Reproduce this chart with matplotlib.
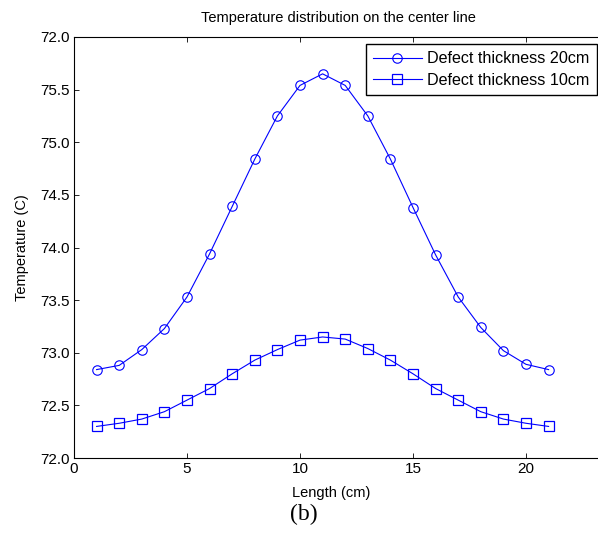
import matplotlib
matplotlib.use("Agg")
import matplotlib.pyplot as plt

plt.rcParams['font.family'] = ['Liberation Sans', 'DejaVu Sans']

length_cm = list(range(1, 22))
temp_20cm = [72.84, 72.88, 73.03, 73.23, 73.53, 73.94, 74.39, 74.84, 75.25, 75.54, 75.65,
             75.54, 75.25, 74.84, 74.38, 73.93, 73.53, 73.24, 73.02, 72.89, 72.84]
temp_10cm = [72.30, 72.33, 72.37, 72.44, 72.55, 72.66, 72.80, 72.93, 73.03, 73.12, 73.15,
             73.13, 73.04, 72.93, 72.80, 72.66, 72.55, 72.44, 72.37, 72.33, 72.30]
series_labels = ['Defect thickness 20cm', 'Defect thickness 10cm']
xticks = [0, 5, 10, 15, 20]
yticks = [72.0, 72.5, 73.0, 73.5, 74.0, 74.5, 75.0, 75.5, 76.0]
ytick_labels = ['72.0', '72.5', '73.0', '73.5', '74.0', '74.5', '75.0', '75.5', '72.0']

W, H = 598, 547
fig = plt.figure(figsize=(W / 100, H / 100), dpi=100)
left, right, top, bottom = 74, 598, 37, 458
ax = fig.add_axes([left / W, 1 - bottom / H, (right - left) / W, (bottom - top) / H])

ax.plot(length_cm, temp_20cm, color='blue', lw=0.8, marker='o', ms=6.8,
        mfc='none', mec='blue', mew=0.8, label=series_labels[0])
ax.plot(length_cm, temp_10cm, color='blue', lw=0.8, marker='s', ms=7.2,
        mfc='none', mec='blue', mew=0.9, label=series_labels[1])

ax.set_xlim(0, (right - left) / 22.6)
ax.set_ylim(72.0, 76.0)
ax.set_xticks(xticks)
ax.set_yticks(yticks)
ax.set_yticklabels(ytick_labels)
ax.tick_params(direction='in', length=3.6, width=0.6, labelsize=11, pad=3,
               top=True, right=False)
for s in ['left', 'bottom', 'top']:
    ax.spines[s].set_linewidth(0.8)
ax.spines['right'].set_visible(False)

fig.text(338 / W, 1 - 18 / H, 'Temperature distribution on the center line',
         ha='center', va='center', fontsize=10.5)
fig.text(331 / W, 1 - 493 / H, 'Length (cm)', ha='center', va='center', fontsize=10.5)
fig.text(22 / W, 1 - 248 / H, 'Temperature (C)', ha='center', va='center',
         rotation=90, fontsize=10.5)
fig.text(304 / W, 1 - 514 / H, '(b)', ha='center', va='center', fontsize=17,
         family='Liberation Serif')

leg = ax.legend(loc='upper left', bbox_to_anchor=(366 / W, 1 - 44 / H),
                bbox_transform=fig.transFigure, fontsize=11.6, frameon=True,
                fancybox=False, edgecolor='black', framealpha=1,
                borderpad=0.45, handlelength=3.0, handletextpad=0.35,
                labelspacing=0.4, borderaxespad=0)
leg.get_frame().set_linewidth(1.0)

fig.savefig('out.png', dpi=100)
